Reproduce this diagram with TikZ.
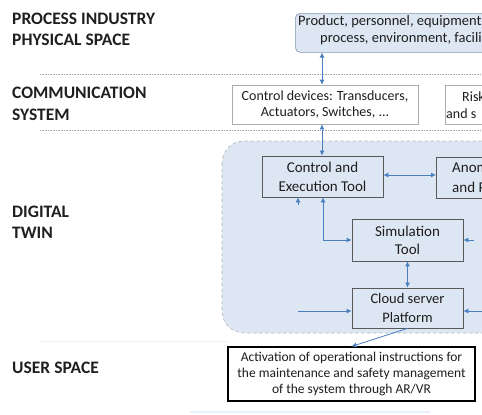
\documentclass[tikz,border=0pt]{standalone}
\usepackage{fontspec}
\setmainfont{Carlito}
\usetikzlibrary{arrows.meta}
\definecolor{arr}{RGB}{74,126,193}
\definecolor{twin}{RGB}{221,231,243}
\definecolor{boxline}{RGB}{89,89,89}
\definecolor{txt}{RGB}{30,30,30}
\definecolor{sep}{RGB}{165,165,165}
\begin{document}
\begin{tikzpicture}[x=1pt,y=-1pt,
  lbl/.style={font=\fontsize{17.5}{21.5}\selectfont\bfseries, text=black!88, anchor=west, inner sep=0pt, align=left},
  tool/.style={draw=boxline, line width=0.8pt, align=center, text=txt, inner sep=0pt},
  plain/.style={text=txt, inner sep=0pt, anchor=west},
  sepline/.style={draw=sep, line width=0.6pt, densely dotted},
  link/.style={draw=arr, line width=0.8pt, {Latex[length=5pt,width=5pt]}-{Latex[length=5pt,width=5pt]}},
  onelink/.style={draw=arr, line width=0.8pt, -{Latex[length=5pt,width=5pt]}}
]
\useasboundingbox (0,0) rectangle (482,415);
\clip (0,0) rectangle (482,415);

% separators
\draw[sepline] (40,74) -- (482,74);
\draw[sepline] (40,130) -- (482,130);
\draw[draw=twin!80, line width=0.6pt, densely dotted] (40,341) -- (228,341);
\draw[draw=twin!60, line width=1.5pt] (190,412) -- (430,412);

% left labels
\node[lbl] (lphys) at (12,29.5) {PROCESS INDUSTRY\\PHYSICAL SPACE};
\node[lbl] (lcomm) at (12,104) {COMMUNICATION\\SYSTEM};
\node[lbl] (ltwin) at (12,222.5) {DIGITAL\\TWIN};
\node[lbl] (luser) at (12,368) {USER SPACE};

% physical space box
\node[draw={rgb,255:red,130;green,150;blue,180}, fill=twin, rounded corners=5pt, line width=0.6pt,
      minimum width=320pt, minimum height=39pt, anchor=north west, inner sep=0pt] (prod) at (295,13) {};
\node[plain, font=\fontsize{14.5}{16}\selectfont] (prod1) at (298,22) {Product, personnel, equipment};
\node[plain, font=\fontsize{14.5}{16}\selectfont] (prod2) at (320,39) {process, environment, facili};

% communication boxes
\node[draw=gray!65, line width=0.6pt, fill=white, minimum width=186pt, minimum height=39pt, inner sep=0pt,
      align=center, text=txt, font=\fontsize{14}{16}\selectfont] (dev) at (325,104.5)
      {Control devices: Transducers,\\Actuators, Switches, ...};
\node[draw=gray!65, line width=0.6pt, fill=white, minimum width=150pt, minimum height=39pt, anchor=north west, inner sep=0pt] (risk) at (445,85) {};
\node[plain, font=\fontsize{14}{16}\selectfont] (risk1) at (462,97) {Risk};
\node[plain, font=\fontsize{14}{16}\selectfont] (risk2) at (446,114) {and s};

% digital twin region
\draw[fill=twin, draw=gray!60, line width=0.6pt, dashed, rounded corners=22pt] (222,141) rectangle (560,333);
\node[inner sep=0pt] (twinreg) at (391,237) {};

% tools
\node[tool, minimum width=121pt, minimum height=41pt, font=\fontsize{15}{19}\selectfont] (ctrl) at (322.5,176.5) {Control and\\Execution Tool};
\node[tool, minimum width=130pt, minimum height=41pt, anchor=north west] (anom) at (436,157) {};
\node[plain, font=\fontsize{15}{19}\selectfont] (anom1) at (452,168) {Anom};
\node[plain, font=\fontsize{15}{19}\selectfont] (anom2) at (452,187) {and P};
\node[tool, minimum width=111pt, minimum height=42pt, font=\fontsize{15}{18}\selectfont] (sim) at (407.5,240) {Simulation\\Tool};
\node[tool, minimum width=111pt, minimum height=40pt, font=\fontsize{14.5}{19}\selectfont] (cloud) at (407.5,308) {Cloud server\\Platform};

% user space box
\node[draw=black, line width=1.1pt, fill=white, minimum width=247pt, minimum height=54pt, inner sep=0pt,
      align=center, text=txt, font=\fontsize{13.5}{16}\selectfont] (act) at (351.5,374)
      {Activation of operational instructions for\\the maintenance and safety management\\of the system through AR/VR};

% connectors
\draw[link] (prod.south -| 322,0) -- (dev.north -| 322,0);
\draw[link] (dev.south -| 322,0) -- (ctrl.north -| 322,0);
\draw[link] (ctrl.east |- 0,175) -- (anom.west |- 0,175);
\draw[link] (ctrl.south -| 323,0) -- (323,240) -- (sim.west |- 0,240);
\draw[link] (sim.south) -- (cloud.north);
\draw[onelink] (cloud.south) -- (act.north);
\coordinate (lfree) at (298,311);
\coordinate (rfree) at (490,311);
\coordinate (lstub) at (298,205);
\coordinate (rstub) at (474,240);
\draw[onelink] (lfree) -- (cloud.west |- lfree);
\draw[onelink] (rfree) -- (cloud.east |- rfree);
\draw[onelink] (lstub) -- (ctrl.south -| lstub);
\draw[onelink] (rstub) -- (sim.east |- rstub);
\end{tikzpicture}
\end{document}
